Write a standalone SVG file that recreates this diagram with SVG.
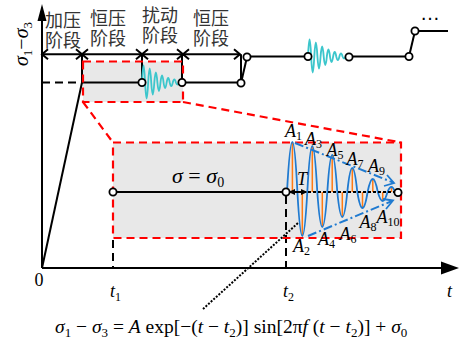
<svg xmlns="http://www.w3.org/2000/svg" width="460" height="344" viewBox="0 0 460 344">
<style>
.ln{stroke:#000;stroke-width:2;fill:none}
.dash{stroke:#000;stroke-width:2;fill:none;stroke-dasharray:8 5}
.red{stroke:#ff0000;stroke-width:2.2;fill:none;stroke-dasharray:8 5}
.box{fill:#e8e8e8}
.pt{fill:#fff;stroke:#000;stroke-width:1.8}
.teal{stroke:#3cc6cc;stroke-width:1.8;fill:none}
.blue{stroke:#1f7ad0;stroke-width:1.8;fill:none}
.env{stroke:#1f7ad0;stroke-width:2;fill:none;stroke-dasharray:9 3 2 3}
.org{stroke:#ff7a12;stroke-width:1.5}
.cjk{font-family:"Noto Sans CJK SC","Noto Sans",sans-serif;font-size:18px;fill:#333}
.m{font-family:"Liberation Serif","Times New Roman",serif;font-size:18px;fill:#000}
.i{font-style:italic}
.lab{font-family:"Liberation Serif","Times New Roman",serif;font-size:18px;font-style:italic;fill:#000}
.s{font-size:12px;font-style:normal}
</style>
<defs>
<path id="wave" d="M0,0 Q1.54,-34 3.08,0 Q4.62,32 6.16,0 Q7.7,-28 9.24,0 Q10.78,24 12.32,0 Q13.86,-20 15.4,0 Q16.94,17 18.48,0 Q20.02,-14 21.56,0 Q23.1,11 24.64,0 Q26.18,-9 27.72,0 Q29.26,7 30.8,0 Q32.34,-6 33.88,0 Q35.42,4 36.96,0 Q38.5,-3 40,0"/>
</defs>

<g id="boxes">
<rect class="box" x="83" y="61.5" width="100" height="40.5"/>
<rect class="box" x="113" y="142.5" width="288" height="95.5"/>
</g>

<g id="axes">
<line class="ln" x1="42" y1="268" x2="42" y2="18"/>
<path d="M42,4 L46.5,21 L37.5,21 Z" fill="#000"/>
<line class="ln" x1="42" y1="268" x2="446" y2="268"/>
<path d="M459,268 L441,261.5 L441,274.5 Z" fill="#000"/>
<text class="m" x="28" y="44" transform="rotate(-90 28 44)" text-anchor="middle" style="font-size:20px"><tspan class="i">σ</tspan><tspan font-size="13" dy="4">1</tspan><tspan dy="-4">−</tspan><tspan class="i">σ</tspan><tspan font-size="13" dy="4">3</tspan></text>
<text class="m" x="39" y="286" text-anchor="middle">0</text>
<text class="m" x="110" y="297"><tspan class="i">t</tspan><tspan font-size="12" dy="4">1</tspan></text>
<text class="m" x="283" y="297"><tspan class="i">t</tspan><tspan font-size="12" dy="4">2</tspan></text>
<text class="m i" x="447" y="297">t</text>
</g>

<g id="stages">
<line class="ln" x1="42" y1="54.3" x2="240" y2="54.3" stroke-width="1.6"/>
<path class="ln" stroke-width="1.5" d="M48,49.3 L42,54.3 L48,59.3 M76,49.3 L82,54.3 L76,59.3 M88,49.3 L82,54.3 L88,59.3 M136,49.3 L142,54.3 L136,59.3 M148,49.3 L142,54.3 L148,59.3 M177,49.3 L183,54.3 L177,59.3 M189,49.3 L183,54.3 L189,59.3 M234,49.3 L240,54.3 L234,59.3"/>
<text class="cjk" x="45" y="27">加压<tspan x="45" dy="19.5">阶段</tspan></text>
<text class="cjk" x="90" y="24.5">恒压<tspan x="90" dy="20.5">阶段</tspan></text>
<text class="cjk" x="142" y="22">扰动<tspan x="142" dy="20">阶段</tspan></text>
<text class="cjk" x="193" y="24.5">恒压<tspan x="193" dy="20">阶段</tspan></text>
</g>

<g id="connectors">
<line class="dash" x1="42" y1="82.5" x2="82" y2="82.5"/>
<line class="ln" x1="42" y1="268" x2="82" y2="82.5"/>
<line class="ln" x1="82" y1="54.3" x2="82" y2="82.5"/>
<line class="ln" x1="82" y1="82.5" x2="142" y2="82.5"/>
<line class="ln" x1="142" y1="54.3" x2="142" y2="79"/>
<line class="ln" x1="182" y1="54.3" x2="182" y2="82.5"/>
<line class="ln" x1="182" y1="82.5" x2="241" y2="82.5"/>
<line class="ln" x1="241" y1="54.3" x2="241" y2="80"/>
<line class="ln" x1="241" y1="83" x2="247" y2="57"/>
<line class="ln" x1="247" y1="56.5" x2="308" y2="56.5"/>
<line class="ln" x1="349" y1="56.5" x2="409" y2="56.5"/>
<line class="ln" x1="409" y1="56.5" x2="415" y2="31"/>
<line class="ln" x1="415" y1="31" x2="448" y2="31"/>
<use href="#wave" class="teal" transform="translate(142,82.5)"/>
<use href="#wave" class="teal" transform="translate(308,56.5) scale(1.02,1)"/>
<line class="ln" x1="113" y1="192" x2="286" y2="192"/>
<line class="dash" x1="113" y1="240" x2="113" y2="268"/>
<line class="dash" x1="286" y1="196" x2="286" y2="268"/>
<line class="red" x1="83" y1="102" x2="113" y2="142.5"/>
<line class="red" x1="183" y1="102" x2="401" y2="142.5"/>
<rect class="red" x="83" y="61.5" width="100" height="40.5"/>
<rect class="red" x="113" y="142.5" width="288" height="95.5"/>
<g class="org">
<line x1="292.4" y1="192" x2="292.4" y2="142"/>
<line x1="302.3" y1="192" x2="302.3" y2="236"/>
<line x1="312.3" y1="192" x2="312.3" y2="146"/>
<line x1="322.3" y1="192" x2="322.3" y2="227"/>
<line x1="332.2" y1="192" x2="332.2" y2="155"/>
<line x1="342.3" y1="192" x2="342.3" y2="217"/>
<line x1="352.3" y1="192" x2="352.3" y2="168"/>
<line x1="362.5" y1="192" x2="362.5" y2="208"/>
<line x1="372.8" y1="192" x2="372.8" y2="179"/>
<line x1="382.7" y1="192" x2="382.7" y2="201"/>
<line x1="391.5" y1="192" x2="391.5" y2="187"/>
</g>
<path class="blue" d="M287,192 Q292.5,92 297.4,192 Q302.3,280 307.3,192 Q312.3,100 317.3,192 Q322.3,262 327.3,192 Q332.2,118 337.3,192 Q342.3,242 347.3,192 Q352.3,144 357.3,192 Q362.5,224 367.6,192 Q372.8,166 377.8,192 Q382.7,210 387.5,192 Q391.5,182 395,192"/>
<line class="env" x1="295" y1="143" x2="393" y2="182.5"/>
<path class="blue" stroke-width="2" d="M384,186 L394,183 L387,175"/>
<line class="env" x1="308" y1="236" x2="392" y2="201"/>
<path class="blue" stroke-width="2" d="M386,209 L393,200.5 L383,199"/>
<line class="ln" x1="288" y1="192" x2="397" y2="192" stroke-dasharray="3 2"/>
<line class="ln" stroke-width="1.5" x1="292" y1="192" x2="304" y2="192"/>
<path d="M288.5,192 L295,189 L295,195 Z M307.5,192 L301,189 L301,195 Z" fill="#000"/>
<line class="ln" x1="203" y1="309" x2="298" y2="223" stroke-dasharray="2 1.5"/>
</g>

<g id="points">
<circle class="pt" cx="142" cy="82.5" r="3.6"/>
<circle class="pt" cx="182" cy="82.5" r="3.6"/>
<circle class="pt" cx="241" cy="83" r="3.6"/>
<circle class="pt" cx="247" cy="57" r="3.6"/>
<circle class="pt" cx="308" cy="56.5" r="3.6"/>
<circle class="pt" cx="349" cy="57" r="3.6"/>
<circle class="pt" cx="409" cy="56.5" r="3.6"/>
<circle class="pt" cx="415" cy="31" r="3.6"/>
<circle class="pt" cx="113" cy="192" r="3.6"/>
<circle class="pt" cx="286" cy="192" r="3.6"/>
<circle class="pt" cx="398" cy="192.5" r="3.6"/>
</g>

<g id="labels">
<text x="430" y="20" text-anchor="middle" font-family="Liberation Sans,sans-serif" font-size="20" fill="#000">…</text>
<text class="m" x="172" y="183" style="font-size:22px"><tspan class="i">σ</tspan> = <tspan class="i">σ</tspan><tspan font-size="14" dy="4">0</tspan></text>
<text class="m i" x="297" y="185">T</text>
<text class="lab" x="285" y="136.5">A<tspan class="s" dy="3">1</tspan></text>
<text class="lab" x="305" y="145">A<tspan class="s" dy="3">3</tspan></text>
<text class="lab" x="326.5" y="156">A<tspan class="s" dy="3">5</tspan></text>
<text class="lab" x="346.5" y="165">A<tspan class="s" dy="3">7</tspan></text>
<text class="lab" x="368" y="171.5">A<tspan class="s" dy="3">9</tspan></text>
<text class="lab" x="376.5" y="223">A<tspan class="s" dy="3">10</tspan></text>
<text class="lab" x="359.5" y="228">A<tspan class="s" dy="3">8</tspan></text>
<text class="lab" x="339.5" y="240">A<tspan class="s" dy="3">6</tspan></text>
<text class="lab" x="318" y="245">A<tspan class="s" dy="3">4</tspan></text>
<text class="lab" x="293" y="252">A<tspan class="s" dy="3">2</tspan></text>
<text class="m" x="55" y="333" style="font-size:19.5px"><tspan class="i">σ</tspan><tspan font-size="13" dy="4">1</tspan><tspan dy="-4"> − </tspan><tspan class="i">σ</tspan><tspan font-size="13" dy="4">3</tspan><tspan dy="-4"> = </tspan><tspan class="i">A</tspan><tspan> exp[−(</tspan><tspan class="i">t</tspan><tspan> − </tspan><tspan class="i">t</tspan><tspan font-size="13" dy="4">2</tspan><tspan dy="-4">)] sin[2π</tspan><tspan class="i">f</tspan><tspan> (</tspan><tspan class="i">t</tspan><tspan> − </tspan><tspan class="i">t</tspan><tspan font-size="13" dy="4">2</tspan><tspan dy="-4">)] + </tspan><tspan class="i">σ</tspan><tspan font-size="13" dy="4">0</tspan></text>
</g>
</svg>
